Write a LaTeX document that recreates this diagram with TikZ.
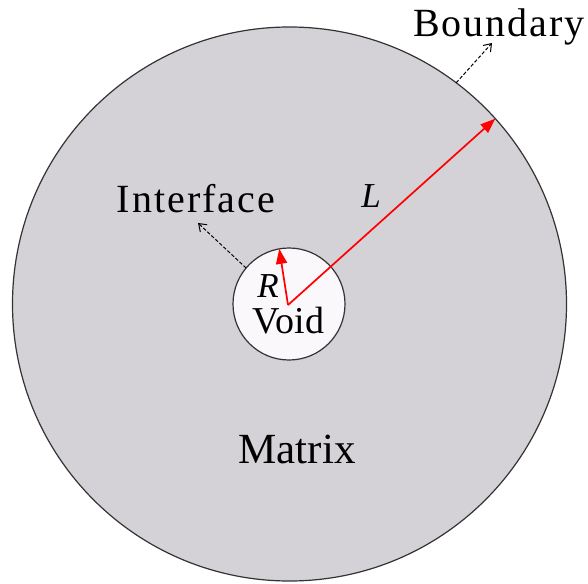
\documentclass[tikz,border=0pt]{standalone}
\usepackage{fontspec}
\setmainfont{Liberation Serif}
\newfontfamily\spacedfont[LetterSpace=5]{Liberation Serif}
\newfontfamily\slightfont[LetterSpace=5]{Liberation Serif}
\usetikzlibrary{arrows.meta}
\definecolor{matrixgray}{RGB}{212,210,214}
\definecolor{voidwhite}{RGB}{250,248,250}
\definecolor{arrred}{RGB}{255,0,0}
\tikzset{
  x=1pt, y=1pt,
  lbl/.style={anchor=base, inner sep=0pt, text=black},
  radiusarrow/.style={draw=arrred, line width=1.7pt, -{Triangle[length=15pt,width=11pt]}},
  pointer/.style={draw=black, line width=1pt, dash pattern=on 3.5pt off 2pt, -{Straight Barb[length=7pt,width=10pt]}},
}
\begin{document}
\begin{tikzpicture}
\useasboundingbox (0,0) rectangle (588,-583);
\node[circle, draw=black!80, line width=1.2pt, fill=matrixgray, minimum size=554pt, inner sep=0pt, outer sep=0pt] (matrixc) at (289.5,-304) {};
\node[circle, draw=black!80, line width=1.2pt, fill=voidwhite, minimum size=112pt, inner sep=0pt, outer sep=0pt] (voidc) at (289,-304) {};
\coordinate (ctr) at (288,-305);
\coordinate (bndend) at (492,-43);
\coordinate (intend) at (198,-223);
\draw[radiusarrow] (ctr) -- (matrixc.42.9);
\draw[radiusarrow] (ctr) -- (voidc.100.7);
\draw[pointer] (matrixc.53.8) -- (bndend);
\draw[pointer] (voidc.140.7) -- (intend);
\node[lbl, font=\fontsize{40}{44}\spacedfont] (bnd) at (499,-37) {Boundary};
\node[lbl, font=\fontsize{40}{44}\slightfont] (intf) at (196,-212) {Interface};
\node[lbl, font=\fontsize{43}{48}\selectfont] (mtx) at (297,-463) {Matrix};
\node[lbl, font=\fontsize{38}{42}\selectfont] (vd) at (288.5,-333) {Void};
\node[lbl, font=\fontsize{35}{40}\selectfont\itshape] (lL) at (371,-207) {L};
\node[lbl, font=\fontsize{35}{40}\selectfont\itshape] (lR) at (268,-297) {R};
\end{tikzpicture}
\end{document}
